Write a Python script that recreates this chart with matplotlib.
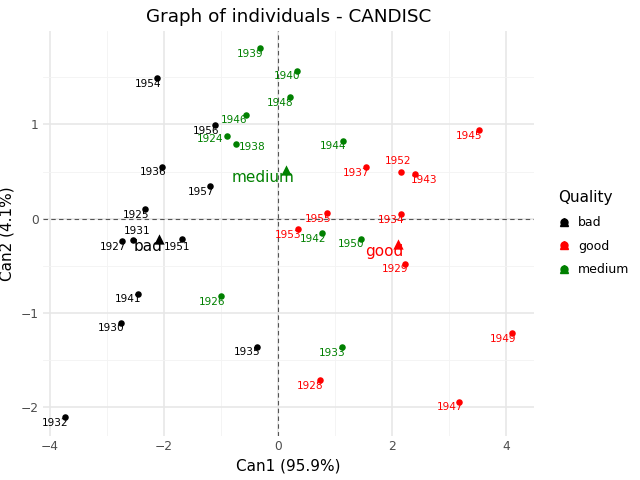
import matplotlib
matplotlib.use("Agg")
import matplotlib.pyplot as plt
from matplotlib.ticker import MultipleLocator
from matplotlib.legend_handler import HandlerTuple
from matplotlib.lines import Line2D

# individuals (year, Can1, Can2) per quality group
bad_years = ["1954", "1956", "1936", "1957", "1925", "1931", "1927", "1951", "1941", "1930", "1935", "1932"]
bad_x = [-2.114, -1.097, -2.026, -1.192, -2.331, -2.535, -2.734, -1.683, -2.459, -2.752, -0.368, -3.734]
bad_y = [1.493, 0.993, 0.553, 0.346, 0.102, -0.228, -0.238, -0.217, -0.795, -1.103, -1.359, -2.106]

good_years = ["1937", "1952", "1943", "1945", "1955", "1934", "1953", "1929", "1928", "1947", "1949"]
good_x = [1.542, 2.156, 2.400, 3.523, 0.866, 2.156, 0.345, 2.221, 0.736, 3.173, 4.102]
good_y = [0.544, 0.496, 0.471, 0.939, 0.060, 0.049, -0.114, -0.476, -1.713, -1.940, -1.217]

medium_years = ["1939", "1940", "1948", "1946", "1924", "1938", "1944", "1942", "1950", "1926", "1933"]
medium_x = [-0.316, 0.333, 0.205, -0.554, -0.890, -0.736, 1.131, 0.778, 1.455, -0.999, 1.117]
medium_y = [1.812, 1.570, 1.290, 1.102, 0.879, 0.798, 0.826, -0.153, -0.210, -0.823, -1.362]

# group centroids
groups = ["bad", "good", "medium"]
center_x = [-2.085, 2.111, 0.139]
center_y = [-0.213, -0.264, 0.521]
colors = {"bad": "black", "good": "red", "medium": "green"}

# label nudges in points (default below-left of the point)
default_off = (-6.8, -4.0)
label_off = {"1931": (2.4, 7.0), "1951": (-3.3, -5.3), "1946": (-8.6, -3.8),
             "1924": (-12.2, -2.4), "1938": (11.5, -2.2), "1952": (-1.9, 7.7),
             "1943": (6.8, -3.8),
             "bad": (-7.9, -5.5), "good": (-10.1, -6.0), "medium": (-16.6, -5.8)}

fig = plt.figure(figsize=(6.4, 4.8), dpi=100)
ax = fig.add_axes([0.0667, 0.0923, 0.7683, 0.8437])

data = {"bad": (bad_years, bad_x, bad_y),
        "good": (good_years, good_x, good_y),
        "medium": (medium_years, medium_x, medium_y)}

for g in groups:
    yrs, xs, ys = data[g]
    ax.scatter(xs, ys, s=22, color=colors[g], zorder=3, linewidths=0)
    for lab, x, y in zip(yrs, xs, ys):
        dx, dy = label_off.get(lab, default_off)
        ax.annotate(lab, (x, y), xytext=(dx, dy), textcoords="offset points",
                    ha="center", va="center", fontsize=7.6, color=colors[g], zorder=4)

for g, x, y in zip(groups, center_x, center_y):
    ax.scatter([x], [y], s=55, marker="^", color=colors[g], zorder=3, linewidths=0)
    dx, dy = label_off[g]
    ax.annotate(g, (x, y), xytext=(dx, dy), textcoords="offset points",
                ha="center", va="center", fontsize=11, color=colors[g], zorder=4)

ax.margins(0.05)
ax.set_ylim(top=1.995)
ax.axhline(0, color="#555555", linestyle=(0, (4, 3)), linewidth=0.8, zorder=2)
ax.axvline(0, color="#555555", linestyle=(0, (4, 3)), linewidth=0.8, zorder=2)

ax.xaxis.set_major_locator(MultipleLocator(2))
ax.xaxis.set_minor_locator(MultipleLocator(1))
ax.yaxis.set_major_locator(MultipleLocator(1))
ax.yaxis.set_minor_locator(MultipleLocator(0.5))
ax.grid(which="major", color="#e6e6e6", linewidth=1.1, zorder=0)
ax.grid(which="minor", color="#f3f3f3", linewidth=0.6, zorder=0)
ax.set_axisbelow(True)
for sp in ax.spines.values():
    sp.set_visible(False)
ax.tick_params(which="both", length=0, labelsize=8.8, labelcolor="#4d4d4d", pad=3)

ax.set_xlabel("Can1 (95.9%)", fontsize=11)
ax.set_ylabel("Can2 (4.1%)", fontsize=11)
ax.set_title("Graph of individuals - CANDISC", fontsize=13.2, pad=6)

handles = []
for g in groups:
    h1 = Line2D([], [], marker="o", linestyle="", color=colors[g], markersize=5)
    h2 = Line2D([], [], marker="^", linestyle="", color=colors[g], markersize=6)
    handles.append((h1, h2))
leg = ax.legend(handles, groups, title="Quality", loc="center left",
                bbox_to_anchor=(1.025, 0.5), frameon=False, fontsize=9,
                title_fontsize=11, handler_map={tuple: HandlerTuple(ndivide=1)},
                handlelength=1.0, handletextpad=0.6, labelspacing=0.85)
leg._legend_box.align = "left"

fig.savefig("out.png", dpi=100)
